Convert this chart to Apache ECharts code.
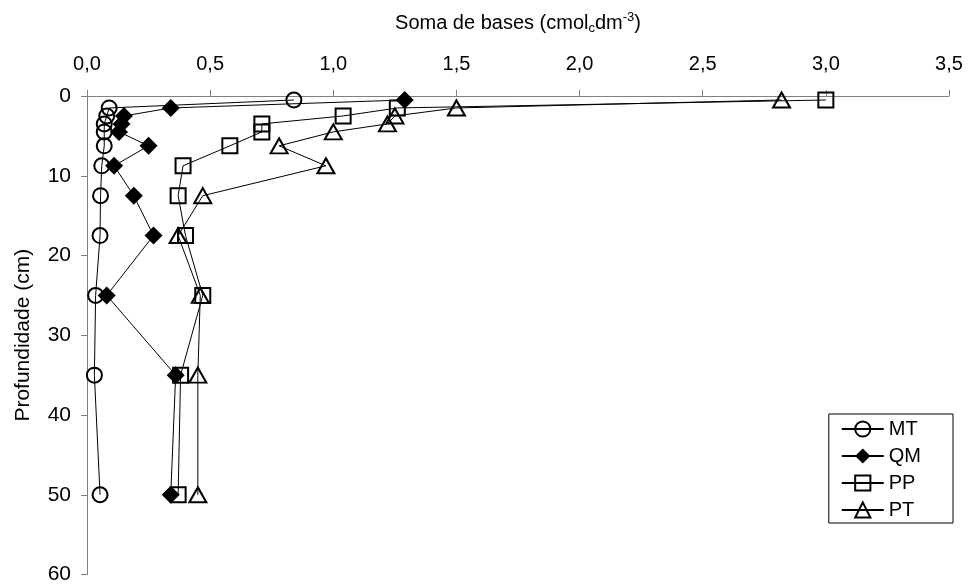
<!DOCTYPE html>
<html>
<head>
<meta charset="utf-8">
<script src="https://cdn.jsdelivr.net/npm/echarts@6/dist/echarts.min.js"></script>
<style>
  html, body { margin: 0; padding: 0; background: #fff; }
  #chart { width: 968px; height: 585px; }
</style>
</head>
<body>
<div id="chart"></div>
<script>
// Sampling depths (cm), shared by all profiles
const depths = [0.5, 1.5, 2.5, 3.5, 4.5, 6.25, 8.75, 12.5, 17.5, 25, 35, 50];

// Sum of bases (cmolc dm-3) per land use
const MT = [0.84, 0.09, 0.08, 0.07, 0.07, 0.07, 0.06, 0.055, 0.053, 0.035, 0.03, 0.053];
const QM = [1.29, 0.34, 0.15, 0.14, 0.13, 0.25, 0.11, 0.19, 0.27, 0.08, 0.36, 0.34];
const PP = [3.0, 1.26, 1.04, 0.71, 0.71, 0.58, 0.39, 0.37, 0.40, 0.47, 0.38, 0.37];
const PT = [2.82, 1.50, 1.25, 1.22, 1.00, 0.78, 0.97, 0.47, 0.37, 0.46, 0.45, 0.45];

const xTicks = ['0,0', '0,5', '1,0', '1,5', '2,0', '2,5', '3,0', '3,5'];
const yTicks = [0, 10, 20, 30, 40, 50, 60];

const FONT = 'Liberation Sans, Arial, sans-serif';

function pairs(values) {
  return values.map((v, i) => [v, depths[i]]);
}

function profile(name, values, symbol, size, filled) {
  return {
    name: name,
    type: 'line',
    data: pairs(values),
    symbol: symbol,
    symbolSize: size,
    showAllSymbol: true,
    lineStyle: { color: '#000', width: 1 },
    itemStyle: {
      color: filled ? '#000' : 'transparent',
      borderColor: '#000',
      borderWidth: filled ? 0 : 2
    },
    emphasis: { disabled: true },
    z: 3
  };
}

const chart = echarts.init(document.getElementById('chart'));
chart.setOption({
  animation: false,
  backgroundColor: '#fff',
  textStyle: { fontFamily: FONT },
  grid: { left: 87, right: 19, top: 96, bottom: 7, containLabel: false },
  xAxis: {
    type: 'value',
    position: 'top',
    min: 0, max: 3.5, interval: 0.5,
    name: '{n|Soma de bases (cmol}{sub|c}{n|dm}{sup|-3}{n|)}',
    nameLocation: 'middle',
    nameGap: 60,
    nameTextStyle: {
      rich: {
        n: { fontSize: 20, color: '#000', fontFamily: FONT, lineHeight: 26 },
        sub: { fontSize: 13, color: '#000', fontFamily: FONT, lineHeight: 26, padding: [11, 0, 0, 0] },
        sup: { fontSize: 13, color: '#000', fontFamily: FONT, lineHeight: 26, padding: [0, 0, 11, 0] }
      }
    },
    axisLine: { show: true, lineStyle: { color: '#808080', width: 1 } },
    axisTick: { show: true, inside: false, length: 6, lineStyle: { color: '#808080' } },
    splitLine: { show: false },
    axisLabel: {
      fontSize: 20, color: '#000', margin: 22, fontFamily: FONT,
      formatter: (v) => xTicks[Math.round(v / 0.5)]
    }
  },
  yAxis: {
    type: 'value',
    inverse: true,
    min: 0, max: 60, interval: 10,
    name: 'Profundidade (cm)',
    nameLocation: 'middle',
    nameGap: 53,
    nameRotate: 90,
    nameTextStyle: { fontSize: 21, color: '#000', fontFamily: FONT },
    axisLine: { show: true, lineStyle: { color: '#808080', width: 1 } },
    axisTick: { show: true, inside: false, length: 6, lineStyle: { color: '#808080' } },
    splitLine: { show: false },
    axisLabel: {
      fontSize: 21, color: '#000', margin: 16, fontFamily: FONT,
      formatter: (v) => yTicks.includes(v) ? String(v) : ''
    }
  },
  legend: {
    orient: 'vertical',
    right: 15,
    bottom: 62,
    backgroundColor: '#fff',
    borderColor: '#000',
    borderWidth: 1,
    borderRadius: 0,
    padding: [5, 32, 3, 12],
    itemWidth: 42,
    itemHeight: 19,
    itemGap: 7,
    textStyle: { fontSize: 20, color: '#000', fontFamily: FONT },
    data: ['MT', 'QM', 'PP', 'PT']
  },
  series: [
    profile('MT', MT, 'circle', 15, false),
    profile('QM', QM, 'diamond', 18, true),
    profile('PP', PP, 'rect', 15, false),
    profile('PT', PT, 'triangle', [17, 15], false)
  ]
});
</script>
</body>
</html>
